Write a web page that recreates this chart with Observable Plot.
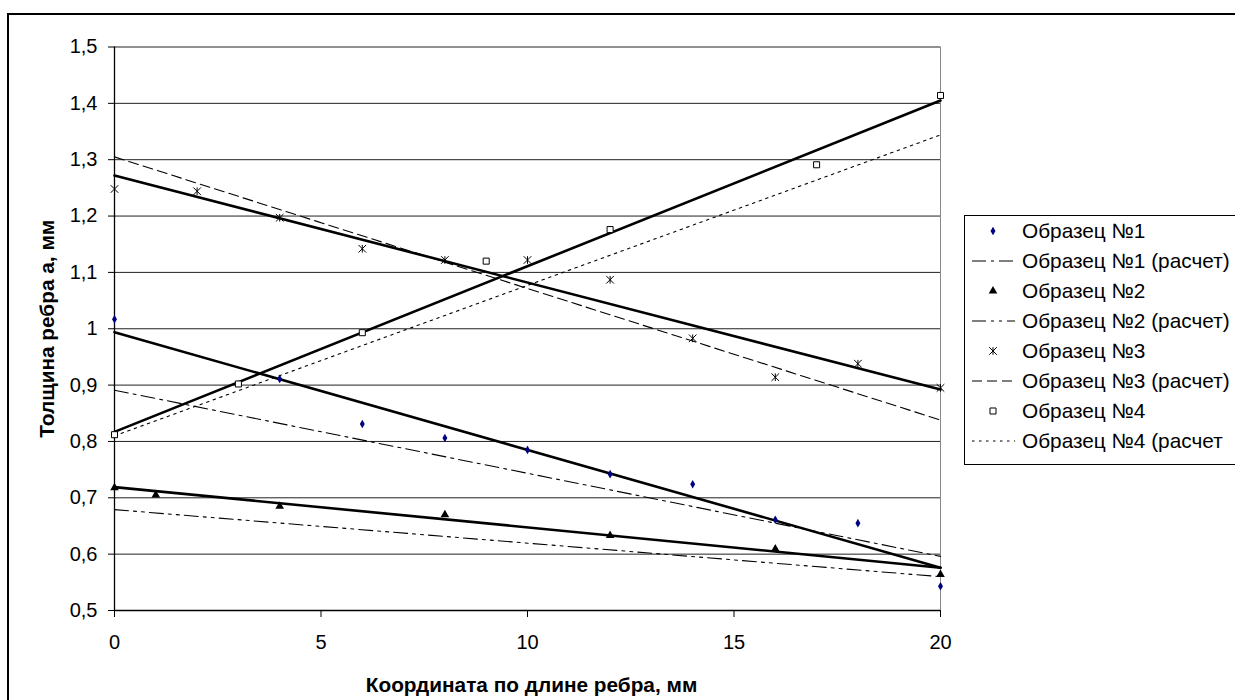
<!DOCTYPE html>
<html><head><meta charset="utf-8">
<script src="https://cdn.jsdelivr.net/npm/d3@7"></script>
<script src="https://cdn.jsdelivr.net/npm/@observablehq/plot@0.6"></script>
<style>
html,body{margin:0;padding:0;background:#fff;overflow:hidden;width:1235px;height:700px;}
#wrap{position:relative;width:1235px;height:700px;overflow:hidden;font-family:"Liberation Sans",Arial,sans-serif;}
#frame{position:absolute;left:7px;top:13px;width:2000px;height:2000px;border:2px solid #000;box-sizing:border-box;}
#chart{position:absolute;left:0;top:0;}
#legend{position:absolute;left:964px;top:215px;}
</style></head><body>
<div id="wrap"><div id="frame"></div><div id="chart"></div><div id="legend"></div></div>
<script>
// ---- data ----
const xTicks = [0, 5, 10, 15, 20];
const yTicks = [0.5, 0.6, 0.7, 0.8, 0.9, 1.0, 1.1, 1.2, 1.3, 1.4, 1.5];
const xTitle = "Координата по длине ребра, мм";
const yTitle = "Толщина ребра а, мм";
const legendNames = ["Образец №1", "Образец №1 (расчет)", "Образец №2", "Образец №2 (расчет)",
                     "Образец №3", "Образец №3 (расчет)", "Образец №4", "Образец №4 (расчет"];

const s1X = [0, 4, 6, 8, 10, 12, 14, 16, 18, 20];
const s1Y = [1.017, 0.911, 0.831, 0.806, 0.785, 0.742, 0.724, 0.661, 0.655, 0.543];
const s2X = [0, 1, 4, 8, 12, 16, 20];
const s2Y = [0.718, 0.705, 0.685, 0.670, 0.633, 0.609, 0.564];
const s3X = [0, 2, 4, 6, 8, 10, 12, 14, 16, 18, 20];
const s3Y = [1.248, 1.244, 1.197, 1.142, 1.122, 1.122, 1.087, 0.983, 0.914, 0.938, 0.895];
const s4X = [0, 3, 6, 9, 12, 17, 20];
const s4Y = [0.812, 0.902, 0.993, 1.120, 1.176, 1.291, 1.414];

// linear trend lines (solid) – endpoints
const trendX = [0, 20];
const trend1 = [0.994, 0.576];
const trend2 = [0.719, 0.576];
const trend3 = [1.272, 0.892];
const trend4 = [0.817, 1.405];

// calculated lines
const calcX = [0, 20];
const calc1 = [0.891, 0.596];
const calc2 = [0.679, 0.560];
const calc3 = [1.305, 0.838];
const calc4 = [0.810, 1.344];

// ---- styles ----
const starSym = {draw(ctx, size){ const r = Math.sqrt(size/Math.PI);
  ctx.moveTo(-r,-r); ctx.lineTo(r,r); ctx.moveTo(-r,r); ctx.lineTo(r,-r); ctx.moveTo(0,-r); ctx.lineTo(0,r);}};
const pts = (xs, ys) => xs.map((x, i) => ({x, y: ys[i]}));
const dash1 = "14,5,3,5", dash2 = "14,5,3,5,3,5", dash3 = "10,5", dash4 = "2.5,4.5";
const pointStyles = [
  {symbol: "diamond", fill: "#000080", stroke: "none", r: 2.6},
  {symbol: "triangle", fill: "#000", stroke: "none", r: 3.2},
  {symbol: starSym, fill: "none", stroke: "#000", strokeWidth: 1, r: 3.8},
  {symbol: "square", fill: "#fff", stroke: "#000", strokeWidth: 1, r: 3.4}
];
const series = [[s1X, s1Y], [s2X, s2Y], [s3X, s3Y], [s4X, s4Y]];
const trends = [trend1, trend2, trend3, trend4];
const calcs = [calc1, calc2, calc3, calc4];
const dashes = [dash1, dash2, dash3, dash4];

const fmtY = d => String(Math.round(d * 10) / 10).replace(".", ",");

const marks = [
  Plot.ruleY(yTicks, {stroke: "#222", strokeWidth: 1}),
  Plot.ruleX([20], {stroke: "#888", strokeWidth: 1}),
  Plot.ruleX([0], {stroke: "#000", strokeWidth: 1.3}),
  Plot.ruleY([0.5], {stroke: "#000", strokeWidth: 1.3}),
  Plot.axisX({ticks: xTicks, tickSize: 7, tickPadding: 17, fontSize: 20, label: null, stroke: "#000"}),
  Plot.axisY({ticks: yTicks, tickSize: 6, tickPadding: 11, fontSize: 20, label: null, tickFormat: fmtY, stroke: "#000"}),
  Plot.text([xTitle], {frameAnchor: "bottom", dy: 75, dx: 4, lineAnchor: "middle", fontWeight: "bold", fontSize: 20.8}),
  Plot.text([yTitle], {frameAnchor: "left", dx: -67, rotate: -90, textAnchor: "middle", lineAnchor: "middle", fontWeight: "bold", fontSize: 20.8})
];
calcs.forEach((c, i) => marks.push(Plot.line(pts(calcX, c), {x: "x", y: "y", stroke: "#000", strokeWidth: 1.1, strokeDasharray: dashes[i]})));
trends.forEach(t => marks.push(Plot.line(pts(trendX, t), {x: "x", y: "y", stroke: "#000", strokeWidth: 2.6})));
series.forEach(([xs, ys], i) => marks.push(Plot.dot(pts(xs, ys), {x: "x", y: "y", ...pointStyles[i]})));

const chart = Plot.plot({
  width: 1235, height: 700,
  marginLeft: 114, marginRight: 295, marginTop: 46.5, marginBottom: 90,
  x: {domain: [0, 20]}, y: {domain: [0.5, 1.5]},
  style: {fontFamily: "'Liberation Sans', Arial, sans-serif", fontSize: "20px", background: "transparent", color: "#000"},
  marks
});
document.getElementById("chart").appendChild(chart);

// ---- legend ----
const lg = d3.select("#legend").append("svg").attr("width", 300).attr("height", 260)
  .style("font-family", "'Liberation Sans', Arial, sans-serif");
lg.append("rect").attr("x", 0.5).attr("y", 0.5).attr("width", 400).attr("height", 249)
  .attr("fill", "#fff").attr("stroke", "#000").attr("stroke-width", 1);
const rowH = 30, row0 = 16;
const symMap = {diamond: d3.symbolDiamond, triangle: d3.symbolTriangle, square: d3.symbolSquare};
legendNames.forEach((name, i) => {
  const cy = row0 + i * rowH;
  const k = Math.floor(i / 2);
  if (i % 2 === 0) {
    const st = pointStyles[k];
    const sym = typeof st.symbol === "string" ? symMap[st.symbol] : st.symbol;
    lg.append("path").attr("transform", `translate(29,${cy})`)
      .attr("d", d3.symbol(sym, Math.PI * st.r * st.r)())
      .attr("fill", st.fill).attr("stroke", st.stroke).attr("stroke-width", st.strokeWidth || 0);
  } else {
    lg.append("line").attr("x1", 8).attr("x2", 51).attr("y1", cy).attr("y2", cy)
      .attr("stroke", "#000").attr("stroke-width", 1.1).attr("stroke-dasharray", dashes[k]);
  }
  lg.append("text").attr("x", 58).attr("y", cy).attr("dy", "0.35em").attr("font-size", 20.8).text(name);
});
</script>
</body></html>
